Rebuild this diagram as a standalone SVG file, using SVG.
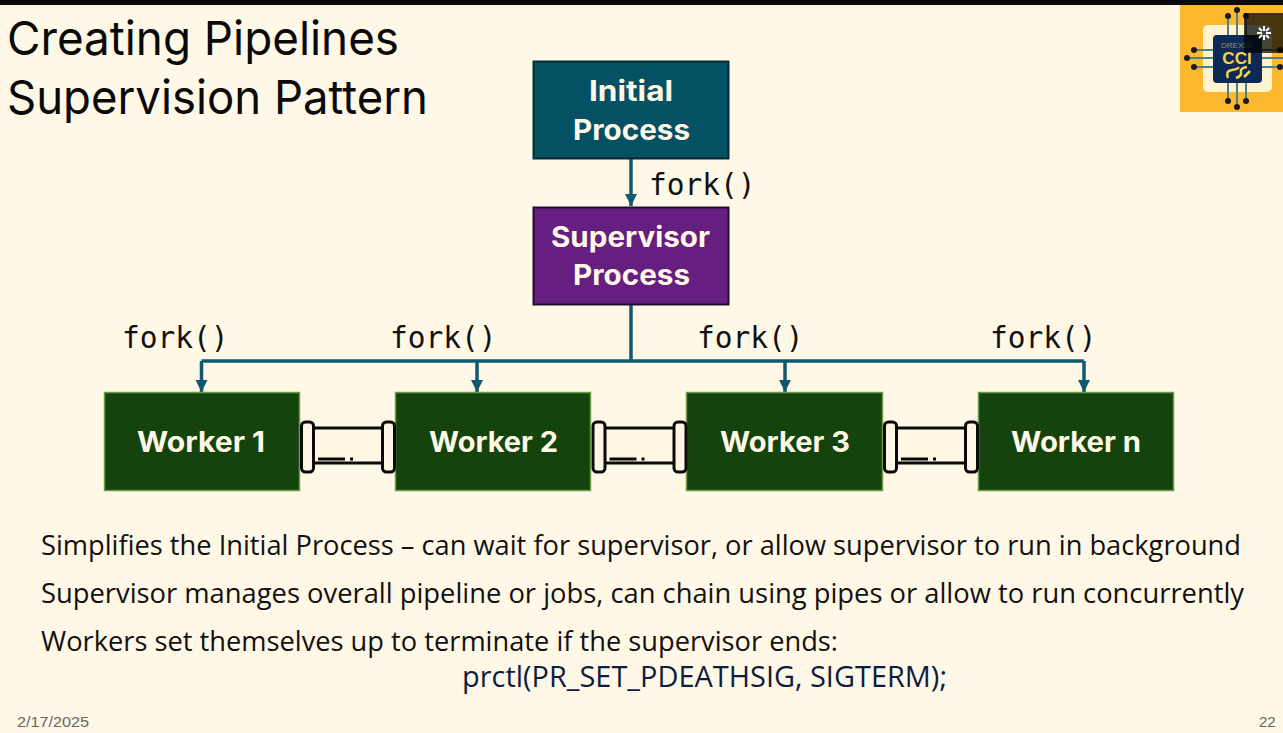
<svg xmlns="http://www.w3.org/2000/svg" width="1283" height="733" viewBox="0 0 1283 733">
<style>
.title{font:47px Inter,"Open Sans","Liberation Sans",sans-serif;fill:#0a0a0a}
.box{font:700 28px Inter,"Open Sans","Liberation Sans",sans-serif;fill:#fff8e6}
.fork{font:29.500px "DejaVu Sans Mono","Liberation Mono",monospace;fill:#111}
.body{font:27px "Open Sans","Liberation Sans",sans-serif;fill:#111}
.foot{font:15px "Liberation Sans",sans-serif;fill:#666}
.conn{fill:none;stroke:#0f5a6e;stroke-width:3.5}
.pipe{fill:#fff6e3;stroke:#0a0a0a;stroke-width:3}
.w{fill:#15430d;stroke:#6f9a45;stroke-width:1.5}
</style>
<defs>
<marker id="arr" markerUnits="userSpaceOnUse" markerWidth="14" markerHeight="12" refX="12" refY="6" orient="auto"><path d="M0 0L12 6L0 12Z" fill="#0f5a6e"/></marker>
<g id="pipeShape">
<rect x="13" y="18" width="70" height="35" class="pipe"/>
<rect x="1.500" y="12" width="12" height="50" rx="4" class="pipe"/>
<rect x="82.500" y="12" width="12" height="50" rx="4" class="pipe"/>
<path d="M18 49H45M50 49H53" stroke="#0a0a0a" stroke-width="3"/>
</g>
</defs>
<rect width="1283" height="733" fill="#fff8e6"/>
<rect width="1283" height="5" fill="#0a0a0a"/>
<text class="title" x="7" y="55" textLength="392" lengthAdjust="spacingAndGlyphs">Creating Pipelines</text>
<text class="title" x="7" y="114" textLength="421" lengthAdjust="spacingAndGlyphs">Supervision Pattern</text>
<g id="logo">
<rect x="1180" y="5" width="103" height="107" fill="#fdb92e"/>
<rect x="1203" y="25" width="69" height="67" rx="5" fill="#fff4cf"/>
<path d="M1228 18V102M1237 11V106M1246 18V102M1194 50H1283M1187 58H1283M1194 67H1283" stroke="#4e7f8a" stroke-width="2"/>
<g fill="#1a1a1a"><circle cx="1228" cy="16" r="3"/><circle cx="1237" cy="10" r="3"/><circle cx="1246" cy="16" r="3"/><circle cx="1228" cy="101" r="3"/><circle cx="1237" cy="107" r="3"/><circle cx="1246" cy="101" r="3"/><circle cx="1194" cy="50" r="3"/><circle cx="1187" cy="58" r="3"/><circle cx="1194" cy="67" r="3"/><circle cx="1280" cy="50" r="3"/><circle cx="1280" cy="67" r="3"/></g>
<rect x="1213" y="35" width="49" height="48" rx="4" fill="#0b2a55"/>
<text x="1237" y="48" font-family="Liberation Sans,sans-serif" font-size="8" fill="#8a8f70" text-anchor="middle">DREXEL</text>
<text x="1237" y="64" font-family="Liberation Sans,sans-serif" font-size="17" font-weight="bold" fill="#f5d24a" text-anchor="middle">CCI</text>
<path d="M1228 78q-3-7 4-8t6-3M1236 78q6-2 5-6t6-5M1244 77l6-6" fill="none" stroke="#f5d24a" stroke-width="2.500"/>
<rect x="1244" y="13" width="39" height="40" fill="#000" fill-opacity=".72"/>
<path d="M1264 26v5M1264 35v5M1257 33h5M1266 33h5M1259 28l3 3M1269 28l-3 3M1259 38l3-3M1269 38l-3-3" stroke="#fff" stroke-width="2"/>
</g>
<g id="connectors">
<path class="conn" d="M631 159V206" marker-end="url(#arr)"/>
<path class="conn" d="M631 305V361"/>
<path class="conn" d="M201.500 361H1084"/>
<path class="conn" d="M201.500 361V392" marker-end="url(#arr)"/>
<path class="conn" d="M477 361V392" marker-end="url(#arr)"/>
<path class="conn" d="M785 361V392" marker-end="url(#arr)"/>
<path class="conn" d="M1084 361V392" marker-end="url(#arr)"/>
</g>
<g id="node-initial"><rect x="533.500" y="61.500" width="195" height="97" fill="#045163" stroke="#0a2a33" stroke-width="2"/><text class="box" x="589" y="101" textLength="84" lengthAdjust="spacingAndGlyphs">Initial</text><text class="box" x="573" y="140" textLength="117" lengthAdjust="spacingAndGlyphs">Process</text></g>
<g id="node-supervisor"><rect x="533.500" y="207.500" width="195" height="97" fill="#661e80" stroke="#1f0f2e" stroke-width="2"/><text class="box" x="551" y="247" textLength="159" lengthAdjust="spacingAndGlyphs">Supervisor</text><text class="box" x="573" y="285" textLength="117" lengthAdjust="spacingAndGlyphs">Process</text></g>
<g id="node-w1"><rect class="w" x="104.500" y="392.500" width="195" height="98"/><text class="box" x="137" y="452" textLength="128" lengthAdjust="spacingAndGlyphs">Worker 1</text></g>
<g id="node-w2"><rect class="w" x="395.500" y="392.500" width="195" height="98"/><text class="box" x="429" y="452" textLength="129" lengthAdjust="spacingAndGlyphs">Worker 2</text></g>
<g id="node-w3"><rect class="w" x="686.500" y="392.500" width="196" height="98"/><text class="box" x="720" y="452" textLength="130" lengthAdjust="spacingAndGlyphs">Worker 3</text></g>
<g id="node-wn"><rect class="w" x="978.500" y="392.500" width="195" height="98"/><text class="box" x="1011" y="452" textLength="130" lengthAdjust="spacingAndGlyphs">Worker n</text></g>
<g id="pipes">
<use href="#pipeShape" x="300" y="410"/>
<use href="#pipeShape" x="591.500" y="410"/>
<use href="#pipeShape" x="883" y="410"/>
</g>
<text class="fork" x="649" y="195">fork()</text>
<text class="fork" x="122" y="348">fork()</text>
<text class="fork" x="390" y="348">fork()</text>
<text class="fork" x="697" y="348">fork()</text>
<text class="fork" x="990" y="348">fork()</text>
<text class="body" x="41" y="555" textLength="1200" lengthAdjust="spacingAndGlyphs">Simplifies the Initial Process – can wait for supervisor, or allow supervisor to run in background</text>
<text class="body" x="41" y="603" textLength="1203" lengthAdjust="spacingAndGlyphs">Supervisor manages overall pipeline or jobs, can chain using pipes or allow to run concurrently</text>
<text class="body" x="41" y="651" textLength="797" lengthAdjust="spacingAndGlyphs">Workers set themselves up to terminate if the supervisor ends:</text>
<text class="body" x="462" y="687" textLength="485" lengthAdjust="spacingAndGlyphs" style="font-size:29px;fill:#0d1c40">prctl(PR_SET_PDEATHSIG, SIGTERM);</text>
<text class="foot" x="17" y="727" textLength="72" lengthAdjust="spacingAndGlyphs">2/17/2025</text>
<text class="foot" x="1259" y="727">22</text>
</svg>
